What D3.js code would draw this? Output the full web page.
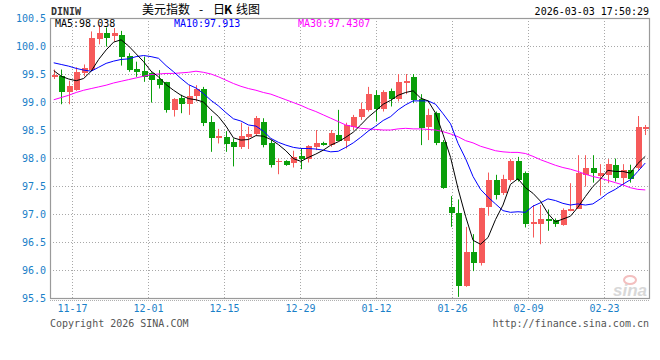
<!DOCTYPE html>
<html>
<head>
<meta charset="utf-8">
<script src="https://cdn.jsdelivr.net/npm/d3@7"></script>
<style>
    body { margin: 0; background: #fff; }
    svg { display: block; }
    .mono { font-family: "DejaVu Sans Mono", "Liberation Mono", monospace; font-size: 10px; }
    .axis text { font-family: "DejaVu Sans Mono", "Liberation Mono", monospace; font-size: 10px; fill: #1a80c8; }
</style>
</head>
<body>
<div id="chart"></div>
<script>
'use strict';

// trading days (weekdays 2025-11-12 .. 2026-03-03)
let dates = [
    '11-12', '11-13', '11-14', '11-17', '11-18', '11-19', '11-20', '11-21', '11-24', '11-25',
    '11-26', '11-27', '11-28', '12-01', '12-02', '12-03', '12-04', '12-05', '12-08', '12-09',
    '12-10', '12-11', '12-12', '12-15', '12-16', '12-17', '12-18', '12-19', '12-22', '12-23',
    '12-24', '12-25', '12-26', '12-29', '12-30', '12-31', '01-01', '01-02', '01-05', '01-06',
    '01-07', '01-08', '01-09', '01-12', '01-13', '01-14', '01-15', '01-16', '01-19', '01-20',
    '01-21', '01-22', '01-23', '01-26', '01-27', '01-28', '01-29', '01-30', '02-02', '02-03',
    '02-04', '02-05', '02-06', '02-09', '02-10', '02-11', '02-12', '02-13', '02-16', '02-17',
    '02-18', '02-19', '02-20', '02-23', '02-24', '02-25', '02-26', '02-27', '03-02', '03-03'
];

let openVals = [
    99.45, 99.46, 99.18, 99.21, 99.52, 99.57, 100.13, 100.23, 100.18, 100.20,
    99.82, 99.59, 99.56, 99.51, 99.41, 99.35, 98.86, 99.07, 98.96, 99.11,
    99.23, 98.65, 98.35, 98.38, 98.29, 98.20, 98.38, 98.43, 98.64, 98.26,
    97.94, 97.95, 97.91, 98.04, 97.99, 98.19, 98.27, 98.23, 98.41, 98.31,
    98.56, 98.73, 98.86, 99.13, 98.88, 99.20, 99.05, 99.34, 99.45, 99.05,
    98.55, 98.80, 98.29, 97.13, 97.02, 95.71, 96.33, 96.13, 97.13, 97.61,
    97.38, 97.60, 97.95, 97.74, 96.83, 96.83, 96.91, 96.89, 96.80, 97.05,
    97.09, 97.70, 97.83, 97.67, 97.70, 97.88, 97.64, 97.79, 97.82, 98.55
];
let highVals = [
    99.58, 99.58, 99.38, 99.62, 99.67, 100.26, 100.38, 100.33, 100.32, 100.27,
    99.87, 99.72, 99.81, 99.53, 99.57, 99.36, 99.07, 99.13, 99.30, 99.30,
    99.27, 98.75, 98.52, 98.48, 98.35, 98.63, 98.56, 98.75, 98.71, 98.32,
    97.99, 97.96, 98.13, 98.17, 98.23, 98.50, 98.29, 98.50, 98.86, 98.63,
    98.77, 98.99, 99.27, 99.21, 99.21, 99.24, 99.50, 99.50, 99.50, 99.14,
    98.88, 98.83, 98.32, 97.32, 97.26, 96.77, 96.64, 97.11, 97.74, 97.70,
    97.70, 97.98, 98.02, 97.76, 97.16, 97.16, 97.08, 96.92, 97.10, 97.55,
    98.05, 98.05, 98.05, 97.89, 97.98, 97.99, 97.89, 97.88, 98.75, 98.59
];
let lowVals = [
    99.41, 98.96, 98.96, 99.20, 99.46, 99.56, 100.03, 99.99, 100.08, 99.65,
    99.54, 99.45, 99.36, 98.99, 99.24, 98.81, 98.74, 98.80, 98.77, 99.01,
    98.57, 98.11, 98.26, 98.11, 97.85, 98.16, 98.16, 98.41, 98.19, 97.83,
    97.71, 97.86, 97.83, 97.80, 97.92, 98.14, 98.22, 98.20, 98.31, 98.17,
    98.50, 98.68, 98.83, 98.65, 98.83, 98.92, 99.01, 99.14, 98.98, 98.23,
    98.32, 98.23, 97.45, 96.77, 95.52, 95.70, 95.98, 96.08, 96.97, 97.26,
    97.34, 97.58, 97.58, 96.76, 96.58, 96.46, 96.70, 96.77, 96.79, 97.05,
    97.09, 97.49, 97.56, 97.33, 97.55, 97.58, 97.51, 97.56, 97.79, 98.41
];
let closeVals = [
    99.48, 99.17, 99.29, 99.54, 99.60, 100.14, 100.23, 100.15, 100.23, 99.81,
    99.58, 99.54, 99.44, 99.39, 99.30, 98.86, 99.06, 98.97, 99.10, 99.23,
    98.63, 98.35, 98.39, 98.25, 98.20, 98.39, 98.43, 98.71, 98.23, 97.88,
    97.95, 97.88, 98.02, 97.99, 98.21, 98.27, 98.23, 98.45, 98.31, 98.59,
    98.73, 98.88, 99.14, 98.88, 99.18, 99.05, 99.36, 99.38, 99.04, 98.54,
    98.77, 98.26, 97.47, 97.01, 95.72, 96.33, 96.13, 97.11, 97.61, 97.34,
    97.63, 97.95, 97.60, 96.83, 96.85, 96.91, 96.88, 96.83, 97.07, 97.09,
    97.74, 97.82, 97.73, 97.73, 97.89, 97.64, 97.79, 97.62, 98.56, 98.55
];

// moving averages
let ma5 = [
    99.56, 99.46, 99.41, 99.38, 99.42, 99.55, 99.76, 99.93, 100.07, 100.11,
    100.00, 99.86, 99.72, 99.55, 99.45, 99.31, 99.21, 99.12, 99.06, 99.04,
    99.00, 98.86, 98.74, 98.57, 98.36, 98.32, 98.33, 98.40, 98.39, 98.33,
    98.24, 98.13, 97.99, 97.94, 98.01, 98.07, 98.14, 98.23, 98.29, 98.37,
    98.46, 98.59, 98.73, 98.84, 98.96, 99.03, 99.12, 99.17, 99.20, 99.07,
    99.02, 98.80, 98.42, 98.01, 97.45, 96.96, 96.53, 96.46, 96.58, 96.90,
    97.16, 97.53, 97.63, 97.47, 97.37, 97.23, 97.01, 96.86, 96.91, 96.96,
    97.12, 97.31, 97.49, 97.62, 97.78, 97.76, 97.76, 97.73, 97.90, 98.03
];
let ma10 = [
    99.70, 99.67, 99.64, 99.60, 99.57, 99.55, 99.62, 99.69, 99.73, 99.76,
    99.77, 99.81, 99.83, 99.81, 99.78, 99.65, 99.54, 99.42, 99.31, 99.25,
    99.15, 99.03, 98.93, 98.81, 98.70, 98.66, 98.59, 98.57, 98.48, 98.35,
    98.28, 98.23, 98.19, 98.17, 98.17, 98.16, 98.14, 98.11, 98.12, 98.19,
    98.27, 98.37, 98.48, 98.57, 98.67, 98.74, 98.86, 98.95, 99.02, 99.02,
    99.02, 98.96, 98.79, 98.61, 98.26, 97.99, 97.67, 97.44, 97.30, 97.18,
    97.06, 97.03, 97.04, 97.03, 97.14, 97.20, 97.27, 97.24, 97.19, 97.16,
    97.18, 97.16, 97.18, 97.27, 97.37, 97.44, 97.53, 97.61, 97.76, 97.91
];
let ma30 = [
    99.04, 99.08, 99.12, 99.17, 99.21, 99.24, 99.27, 99.30, 99.34, 99.37,
    99.40, 99.43, 99.46, 99.49, 99.50, 99.51, 99.51, 99.52, 99.53, 99.55,
    99.53, 99.50, 99.45, 99.39, 99.33, 99.28, 99.24, 99.21, 99.17, 99.14,
    99.09, 99.04, 98.99, 98.94, 98.88, 98.83, 98.77, 98.71, 98.65, 98.59,
    98.56, 98.53, 98.52, 98.51, 98.50, 98.50, 98.52, 98.53, 98.52, 98.52,
    98.51, 98.50, 98.47, 98.43, 98.38, 98.31, 98.27, 98.21, 98.17, 98.13,
    98.11, 98.10, 98.10, 98.08, 98.03, 97.97, 97.92, 97.87, 97.83, 97.80,
    97.76, 97.71, 97.67, 97.64, 97.60, 97.56, 97.52, 97.47, 97.44, 97.43
];

let yTicks = [95.5, 96.0, 96.5, 97.0, 97.5, 98.0, 98.5, 99.0, 99.5, 100.0, 100.5];
let xLabels = ['11-17', '12-01', '12-15', '12-29', '01-12', '01-26', '02-09', '02-23'];
let legendTexts = ['MA5:98.038', 'MA10:97.913', 'MA30:97.4307'];
let titleParts = ['美元指数', '-', '日', 'K', '线图'];

let upColor = '#f65a5a',
    downColor = '#0a9f0a',
    maColors = ['#000000', '#0000ff', '#ff00ff'];

let width = 660,
    height = 360,
    margin = {
        top: 18,
        right: 11,
        bottom: 62,
        left: 50
    };
let plotW = width - margin.left - margin.right;
let plotH = height - margin.top - margin.bottom;

let svg = d3.select('#chart')
    .append('svg')
    .attr('width', width)
    .attr('height', height);

let g = svg.append('g')
    .attr('transform', 'translate(' + margin.left + ',' + margin.top + ')');

// scales
let x = d3.scaleBand().domain(dates).range([0, plotW]).paddingInner(0.2).paddingOuter(0.1);
let xGrid = d3.scalePoint().domain(xLabels).range([22, 554]);
let y = d3.scaleLinear().domain([95.5, 100.5]).range([plotH, 0]);

// dotted grid
g.append('g')
    .selectAll('line')
    .data(yTicks.slice(1, -1))
    .enter().append('line')
    .attr('x1', 0)
    .attr('x2', plotW)
    .attr('y1', d => Math.round(y(d)) + 0.5)
    .attr('y2', d => Math.round(y(d)) + 0.5)
    .style('stroke', '#a8a8a8')
    .style('stroke-dasharray', '1,2');

g.append('g')
    .selectAll('line')
    .data(xLabels)
    .enter().append('line')
    .attr('x1', d => Math.round(xGrid(d)) + 0.5)
    .attr('x2', d => Math.round(xGrid(d)) + 0.5)
    .attr('y1', 0)
    .attr('y2', plotH)
    .style('stroke', '#a8a8a8')
    .style('stroke-dasharray', '1,2');

// dotted line under the plot
g.append('line')
    .attr('x1', 0)
    .attr('x2', plotW + 1)
    .attr('y1', plotH + 2.5)
    .attr('y2', plotH + 2.5)
    .style('stroke', '#b0b0b0')
    .style('stroke-dasharray', '1,1');

// candles
let idx = d3.range(dates.length);
let bw = x.bandwidth();
let cx = i => Math.round(x(dates[i]) + bw / 2) + 0.5;
let colorOf = i => closeVals[i] >= openVals[i] ? upColor : downColor;

let candles = g.append('g').attr('class', 'candles');

candles.selectAll('line.wick')
    .data(idx)
    .enter().append('line')
    .attr('class', 'wick')
    .attr('x1', cx)
    .attr('x2', cx)
    .attr('y1', i => y(highVals[i]))
    .attr('y2', i => y(lowVals[i]))
    .style('stroke', colorOf)
    .style('stroke-width', 1);

candles.selectAll('rect.body')
    .data(idx)
    .enter().append('rect')
    .attr('class', 'body')
    .attr('x', i => cx(i) - 3)
    .attr('width', 6)
    .attr('y', i => y(Math.max(openVals[i], closeVals[i])))
    .attr('height', i => Math.max(1.5, Math.abs(y(openVals[i]) - y(closeVals[i]))))
    .style('fill', colorOf)
    .attr('shape-rendering', 'crispEdges');

// moving average lines
let maLine = arr => d3.line()
    .x((d, i) => x(dates[i]) + bw / 2)
    .y(d => y(d))(arr);

[ma30, ma10, ma5].forEach(function(arr, k) {
    g.append('path')
        .attr('d', maLine(arr))
        .style('fill', 'none')
        .style('stroke', maColors[2 - k])
        .style('stroke-width', 1);
});

// border
g.append('rect')
    .attr('x', 0.5)
    .attr('y', 0.5)
    .attr('width', plotW)
    .attr('height', plotH)
    .style('fill', 'none')
    .style('stroke', '#9a9a9a')
    .style('stroke-width', 1.2);

// axes
let yAxis = d3.axisLeft(y).tickValues(yTicks).tickSize(0).tickPadding(4).tickFormat(d3.format('.1f'));
let xAxis = d3.axisBottom(xGrid).tickSize(0).tickPadding(7);

g.append('g')
    .attr('class', 'axis')
    .call(yAxis)
    .call(s => s.select('.domain').remove());

g.append('g')
    .attr('class', 'axis')
    .attr('transform', 'translate(0,' + plotH + ')')
    .call(xAxis)
    .call(s => s.select('.domain').remove());

// legend
let legendX = [5, 124, 248];
g.selectAll('text.legend')
    .data(legendTexts)
    .enter().append('text')
    .attr('class', 'legend mono')
    .attr('x', (d, i) => legendX[i])
    .attr('y', 9)
    .style('fill', (d, i) => maColors[i])
    .text(d => d);

// header
svg.append('text')
    .attr('class', 'mono')
    .attr('x', 51)
    .attr('y', 15)
    .style('font-weight', 'bold')
    .style('fill', '#333')
    .text('DINIW');

let titleX = [142, 199, 213, 224, 236];
let title = svg.append('text')
    .attr('y', 14)
    .style('font-family', '"Noto Sans CJK SC", sans-serif')
    .style('font-size', '12px')
    .style('fill', '#000');
title.selectAll('tspan')
    .data(titleParts)
    .enter().append('tspan')
    .attr('x', (d, i) => titleX[i])
    .style('font-weight', d => d === 'K' ? 'bold' : 'normal')
    .text(d => d);

svg.append('text')
    .attr('class', 'mono')
    .attr('x', 649)
    .attr('y', 15)
    .attr('text-anchor', 'end')
    .style('fill', '#000')
    .text('2026-03-03 17:50:29');

// footer
svg.append('text')
    .attr('class', 'mono')
    .attr('x', 50)
    .attr('y', 327)
    .style('fill', '#555')
    .text('Copyright 2026 SINA.COM');

svg.append('text')
    .attr('class', 'mono')
    .attr('x', 649)
    .attr('y', 327)
    .attr('text-anchor', 'end')
    .style('fill', '#555')
    .text('http://finance.sina.com.cn');

// sina watermark
let logo = svg.append('g').attr('opacity', 0.85);
logo.append('ellipse')
    .attr('cx', 630)
    .attr('cy', 280)
    .attr('rx', 6)
    .attr('ry', 4)
    .style('fill', 'none')
    .style('stroke', '#f2b4b4')
    .style('stroke-width', 2);
logo.append('text')
    .attr('x', 647)
    .attr('y', 296)
    .attr('text-anchor', 'end')
    .style('font-family', '"Liberation Sans", Arial, sans-serif')
    .style('font-size', '17px')
    .style('font-weight', 'bold')
    .style('font-style', 'italic')
    .style('fill', '#d2d2d2')
    .text('sina');
</script>
</body>
</html>
